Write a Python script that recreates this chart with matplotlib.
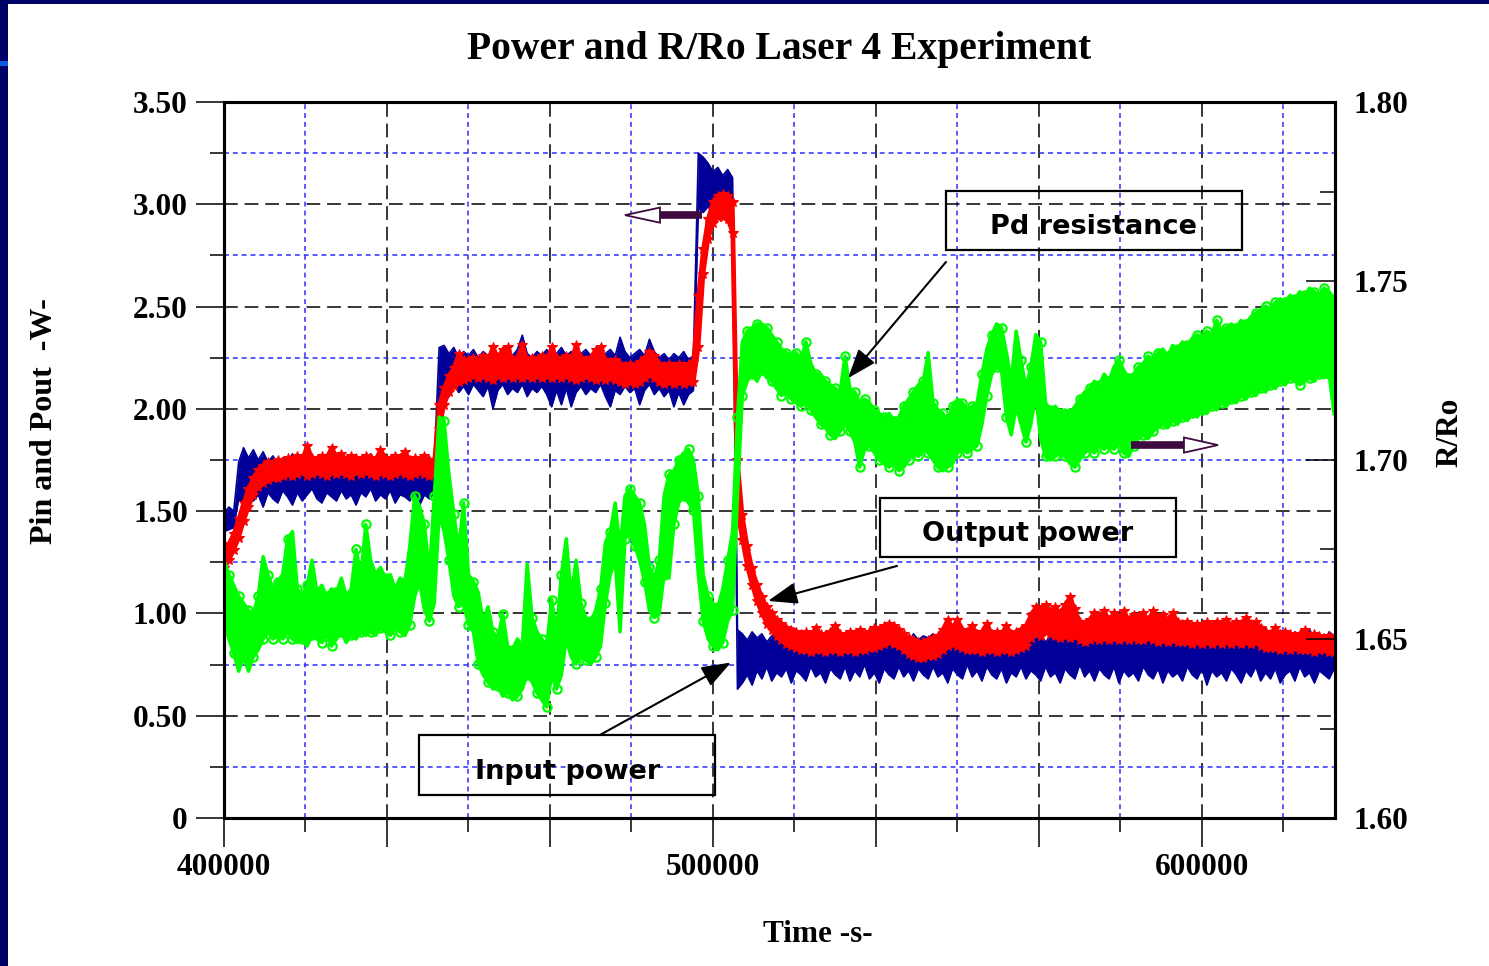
import numpy as np
import matplotlib
matplotlib.use("Agg")
import matplotlib.pyplot as plt
from matplotlib.patches import Rectangle, Polygon
from matplotlib.ticker import FixedLocator, FuncFormatter

plt.rcParams["font.family"] = ["Liberation Serif", "DejaVu Serif"]
plt.rcParams["font.weight"] = "bold"

# ---------------------------------------------------------------------------
# Data: one min/max pair per 1000 s bin, from 400000 s to 627000 s
# ---------------------------------------------------------------------------
time_s = np.arange(400000, 628000, 1000)

# Input power (W): lower / upper envelope of the noisy trace
pin_lo = [
    1.40, 1.41, 1.42,
    1.56, 1.53, 1.60, 1.55, 1.58, 1.52, 1.59, 1.56, 1.54, 1.60, 1.57, 1.53, 1.59, 1.55,
    1.58, 1.61, 1.56, 1.54, 1.59, 1.57, 1.55, 1.60, 1.56, 1.58, 1.53, 1.59, 1.57, 1.61,
    1.55, 1.58, 1.56, 1.60, 1.54, 1.58, 1.57, 1.55, 1.60, 1.53, 1.58, 1.56, 1.59,
    2.04,
    2.10, 2.06, 2.12, 2.08, 2.11, 2.07, 2.12, 2.09, 2.06, 2.11, 2.00, 2.09, 2.12, 2.07,
    2.10, 2.08, 2.12, 2.06, 2.10, 2.08, 2.11, 2.07, 2.01, 2.09, 2.02, 2.10, 2.01, 2.08,
    2.11, 2.07, 2.10, 2.08, 2.12, 2.06, 2.01, 2.09, 2.07, 2.11, 2.08, 2.10, 2.02, 2.09,
    2.12, 2.07, 2.10, 2.06, 2.09, 2.01, 2.08, 2.02, 2.07, 2.09,
    2.98, 2.96, 2.99, 2.95, 2.97, 2.94, 2.96, 2.92,
    0.63, 0.66, 0.70, 0.65, 0.72, 0.68, 0.74, 0.67, 0.71, 0.69, 0.73, 0.66, 0.72, 0.70,
    0.67, 0.74, 0.69, 0.71, 0.66, 0.73,
    0.70, 0.68, 0.74, 0.67, 0.72, 0.69, 0.75, 0.68, 0.71, 0.66, 0.73, 0.70, 0.68, 0.74,
    0.69, 0.72, 0.67, 0.73, 0.70, 0.68,
    0.74, 0.69, 0.71, 0.66, 0.73, 0.70, 0.68, 0.75, 0.69, 0.72, 0.67, 0.74, 0.70, 0.68,
    0.73, 0.66, 0.71, 0.69, 0.74, 0.68,
    0.72, 0.70, 0.67, 0.74, 0.69, 0.71, 0.66, 0.73, 0.70, 0.68, 0.75, 0.69, 0.72, 0.67,
    0.73, 0.70, 0.68, 0.74, 0.66, 0.72,
    0.69, 0.71, 0.67, 0.74, 0.70, 0.68, 0.73, 0.66, 0.72, 0.69, 0.71, 0.67, 0.74, 0.70,
    0.68, 0.73, 0.65, 0.72, 0.69, 0.71,
    0.67, 0.73, 0.70, 0.66, 0.72, 0.69, 0.74, 0.67, 0.71, 0.68, 0.73, 0.66, 0.70, 0.72,
    0.67, 0.74, 0.69, 0.71, 0.66, 0.72, 0.70, 0.68, 0.73,
]
pin_hi = [
    1.49, 1.52, 1.50,
    1.74, 1.81, 1.76, 1.80, 1.75, 1.79, 1.74, 1.77, 1.73, 1.76, 1.74, 1.78, 1.73, 1.75,
    1.77, 1.74, 1.76, 1.73, 1.75, 1.74, 1.77, 1.73, 1.75, 1.74, 1.76, 1.73, 1.75, 1.78,
    1.74, 1.76, 1.73, 1.75, 1.77, 1.74, 1.76, 1.73, 1.75, 1.74, 1.77, 1.73, 1.74,
    2.30,
    2.31, 2.27, 2.30, 2.25, 2.28, 2.26, 2.29, 2.25, 2.28, 2.26, 2.29, 2.27, 2.25, 2.28,
    2.26, 2.29, 2.36, 2.27, 2.25, 2.28, 2.26, 2.29, 2.25, 2.27, 2.30, 2.26, 2.28, 2.25,
    2.27, 2.29, 2.26, 2.28, 2.25, 2.27, 2.29, 2.26, 2.35, 2.28, 2.25, 2.27, 2.29, 2.26,
    2.34, 2.28, 2.25, 2.27, 2.24, 2.27, 2.25, 2.28, 2.24, 2.26,
    3.25, 3.23, 3.20, 3.16, 3.18, 3.14, 3.17, 3.13,
    0.92, 0.90, 0.87, 0.91, 0.88, 0.90, 0.86, 0.89, 0.91, 0.87, 0.90, 0.88, 0.86, 0.91,
    0.89, 0.87, 0.90, 0.88, 0.91, 0.86,
    0.89, 0.87, 0.90, 0.88, 0.86, 0.91, 0.87, 0.89, 0.88, 0.90, 0.86, 0.89, 0.87, 0.91,
    0.88, 0.86, 0.90, 0.87, 0.89, 0.88,
    0.90, 0.86, 0.89, 0.87, 0.91, 0.88, 0.86, 0.90, 0.87, 0.89, 0.88, 0.91, 0.86, 0.89,
    0.87, 0.90, 0.88, 0.86, 0.91, 0.87,
    0.89, 0.88, 0.90, 0.86, 0.89, 0.87, 0.91, 0.88, 0.86, 0.90, 0.87, 0.89, 0.88, 0.91,
    0.86, 0.89, 0.87, 0.90, 0.88, 0.86,
    0.91, 0.87, 0.89, 0.88, 0.90, 0.86, 0.89, 0.87, 0.91, 0.88, 0.86, 0.90, 0.87, 0.89,
    0.88, 0.91, 0.87, 0.90, 0.86, 0.89,
    0.88, 0.92, 0.87, 0.90, 0.86, 0.91, 0.88, 0.89, 0.93, 0.87, 0.90, 0.88, 0.92, 0.86,
    0.91, 0.89, 0.87, 0.92, 0.88, 0.90, 0.86, 0.91, 0.89,
]

# Output power (W): lower / upper envelope
pout_lo = [
    1.22, 1.26, 1.31, 1.37, 1.45, 1.52, 1.58, 1.62, 1.64, 1.65, 1.66, 1.66, 1.67,
    1.68, 1.67, 1.68, 1.69, 1.67, 1.68, 1.69, 1.68, 1.67, 1.69, 1.68, 1.69, 1.68, 1.67,
    1.69, 1.68, 1.69, 1.68, 1.67, 1.69, 1.68, 1.67, 1.68, 1.69, 1.68, 1.67, 1.68, 1.69,
    1.68, 1.67, 1.68,
    1.90, 2.02, 2.08, 2.11, 2.13, 2.14,
    2.15, 2.16, 2.15, 2.16, 2.15, 2.14, 2.16, 2.15, 2.16, 2.15, 2.16, 2.15, 2.16, 2.15,
    2.16, 2.15, 2.16, 2.15, 2.16, 2.15, 2.16, 2.15, 2.14, 2.15, 2.16, 2.15, 2.14, 2.15,
    2.14, 2.15, 2.14, 2.13, 2.12, 2.13, 2.12, 2.13, 2.15, 2.17, 2.15, 2.13, 2.12, 2.13,
    2.12, 2.13, 2.12, 2.13, 2.13,
    2.30, 2.66, 2.83, 2.91, 2.94, 2.94, 2.93, 2.86,
    1.50, 1.36, 1.23, 1.14, 1.06, 1.00, 0.95, 0.92, 0.89, 0.87, 0.85, 0.84, 0.83,
    0.82, 0.82, 0.81, 0.82, 0.82, 0.81, 0.82, 0.82, 0.81, 0.82, 0.82, 0.81, 0.82, 0.82,
    0.83, 0.83, 0.84, 0.85, 0.86, 0.85, 0.84, 0.82, 0.80, 0.79, 0.78, 0.78, 0.79, 0.79,
    0.80, 0.82, 0.84, 0.85, 0.84, 0.83, 0.82, 0.82, 0.82, 0.81, 0.82, 0.82, 0.81, 0.82,
    0.82, 0.81, 0.82, 0.83, 0.84, 0.88, 0.90, 0.89, 0.91, 0.90, 0.89, 0.88, 0.89, 0.88,
    0.89, 0.87, 0.86, 0.87, 0.88, 0.87, 0.88, 0.87, 0.88, 0.87, 0.88, 0.87, 0.88, 0.87,
    0.87, 0.88, 0.87, 0.86, 0.87, 0.86, 0.87, 0.86, 0.86, 0.86, 0.85, 0.86, 0.85, 0.86,
    0.85, 0.86, 0.85, 0.86, 0.85, 0.86, 0.85, 0.86, 0.85, 0.86, 0.84, 0.83, 0.83, 0.83,
    0.82, 0.83, 0.82, 0.83, 0.82, 0.82, 0.82, 0.81, 0.82, 0.82, 0.81, 0.81,
]
pout_hi = [
    1.29, 1.34, 1.39, 1.46, 1.54, 1.61, 1.66, 1.70, 1.72, 1.74, 1.73, 1.75, 1.74,
    1.76, 1.75, 1.77, 1.75, 1.82, 1.76, 1.75, 1.77, 1.76, 1.81, 1.76, 1.78, 1.75, 1.77,
    1.76, 1.75, 1.77, 1.76, 1.75, 1.80, 1.76, 1.75, 1.77, 1.76, 1.79, 1.75, 1.76, 1.75,
    1.77, 1.75, 1.74,
    2.02, 2.10, 2.16, 2.20, 2.27, 2.24,
    2.24, 2.25, 2.23, 2.26, 2.24, 2.30, 2.25, 2.29, 2.30, 2.24, 2.25, 2.31, 2.24, 2.25,
    2.24, 2.26, 2.24, 2.30, 2.25, 2.24, 2.26, 2.24, 2.31, 2.25, 2.24, 2.25, 2.29, 2.30,
    2.24, 2.23, 2.24, 2.22, 2.21, 2.22, 2.21, 2.23, 2.25, 2.28, 2.26, 2.22, 2.21, 2.22,
    2.21, 2.22, 2.21, 2.22, 2.23,
    2.55, 2.78, 2.93, 3.01, 3.04, 3.05, 3.04, 3.01,
    1.75, 1.48, 1.33, 1.22, 1.14, 1.08, 1.03, 1.00, 0.97, 0.95, 0.93, 0.92, 0.91,
    0.90, 0.91, 0.89, 0.93, 0.90, 0.89, 0.91, 0.94, 0.90, 0.89, 0.91, 0.90, 0.92, 0.90,
    0.91, 0.93, 0.92, 0.94, 0.95, 0.94, 0.92, 0.90, 0.88, 0.87, 0.86, 0.86, 0.87, 0.88,
    0.89, 0.92, 0.97, 0.93, 0.97, 0.92, 0.91, 0.94, 0.90, 0.91, 0.95, 0.90, 0.91, 0.90,
    0.94, 0.90, 0.91, 0.92, 0.94, 0.99, 1.03, 1.02, 1.04, 1.01, 1.03, 1.00, 1.04, 1.08,
    1.02, 0.96, 0.95, 0.97, 1.00, 0.98, 1.01, 0.97, 1.00, 0.98, 1.01, 0.97, 0.99, 0.98,
    1.00, 0.97, 1.01, 0.98, 0.99, 0.97, 1.00, 0.96, 0.95, 0.96, 0.94, 0.95, 0.94, 0.96,
    0.94, 0.96, 0.95, 0.97, 0.94, 0.96, 0.95, 0.98, 0.95, 0.96, 0.93, 0.91, 0.90, 0.93,
    0.90, 0.91, 0.90, 0.89, 0.90, 0.92, 0.89, 0.90, 0.89, 0.88, 0.89, 0.88,
]

# Pd resistance ratio R/Ro: lower / upper envelope
rr_lo = [
    1.655, 1.650, 1.646, 1.641, 1.645, 1.641, 1.645, 1.647, 1.650, 1.652,
    1.650, 1.651, 1.650, 1.652, 1.650, 1.649, 1.650, 1.648, 1.651, 1.650,
    1.649, 1.651, 1.648, 1.650, 1.652, 1.649, 1.651, 1.650, 1.652, 1.651,
    1.652, 1.651, 1.653, 1.652, 1.651, 1.653, 1.652, 1.651, 1.654, 1.662,
    1.666, 1.658, 1.655, 1.660, 1.685, 1.680, 1.672, 1.662, 1.659, 1.660,
    1.654, 1.652, 1.643, 1.640, 1.638, 1.636, 1.637, 1.634, 1.635, 1.633,
    1.634, 1.636, 1.640, 1.638, 1.635, 1.633, 1.631, 1.640, 1.636, 1.640,
    1.650, 1.645, 1.643, 1.645, 1.644, 1.643, 1.645, 1.648, 1.660, 1.668,
    1.672, 1.652, 1.678, 1.680, 1.676, 1.672, 1.666, 1.658, 1.656, 1.657,
    1.668, 1.667, 1.682, 1.688, 1.690, 1.688, 1.686, 1.668, 1.655, 1.650,
    1.648, 1.647, 1.649, 1.655, 1.658, 1.690, 1.718, 1.722, 1.724, 1.722,
    1.725, 1.723, 1.722, 1.720, 1.718, 1.719, 1.717, 1.716, 1.715, 1.716,
    1.714, 1.712, 1.710, 1.709, 1.707, 1.706, 1.708, 1.710, 1.708, 1.705,
    1.698, 1.703, 1.704, 1.702, 1.700, 1.699, 1.698, 1.699, 1.697, 1.698,
    1.700, 1.702, 1.701, 1.703, 1.702, 1.700, 1.698, 1.697, 1.698, 1.699,
    1.702, 1.703, 1.702, 1.703, 1.704, 1.710, 1.718, 1.724, 1.726, 1.725,
    1.712, 1.707, 1.715, 1.710, 1.705, 1.710, 1.718, 1.706, 1.701, 1.700,
    1.701, 1.702, 1.701, 1.699, 1.698, 1.700, 1.702, 1.703, 1.702, 1.704,
    1.703, 1.704, 1.703, 1.705, 1.702, 1.701, 1.704, 1.706, 1.707, 1.706,
    1.708, 1.709, 1.710, 1.709, 1.711, 1.710, 1.712, 1.711, 1.713, 1.712,
    1.714, 1.713, 1.715, 1.714, 1.716, 1.715, 1.717, 1.716, 1.718, 1.717,
    1.719, 1.718, 1.720, 1.719, 1.721, 1.720, 1.722, 1.721, 1.723, 1.722,
    1.721, 1.722, 1.723, 1.722, 1.724, 1.723, 1.724, 1.713,
]
rr_hi = [
    1.672, 1.668, 1.665, 1.662, 1.660, 1.658, 1.657, 1.662, 1.673, 1.668,
    1.664, 1.666, 1.668, 1.678, 1.680, 1.664, 1.662, 1.665, 1.672, 1.663,
    1.665, 1.662, 1.664, 1.663, 1.667, 1.662, 1.664, 1.675, 1.668, 1.682,
    1.672, 1.668, 1.670, 1.667, 1.668, 1.664, 1.667, 1.666, 1.676, 1.690,
    1.687, 1.682, 1.668, 1.690, 1.712, 1.711, 1.696, 1.685, 1.675, 1.688,
    1.668, 1.666, 1.663, 1.655, 1.659, 1.652, 1.650, 1.657, 1.648, 1.647,
    1.650, 1.648, 1.671, 1.656, 1.652, 1.650, 1.648, 1.661, 1.652, 1.668,
    1.678, 1.662, 1.672, 1.660, 1.656, 1.655, 1.658, 1.664, 1.677, 1.680,
    1.688, 1.675, 1.690, 1.692, 1.690, 1.688, 1.682, 1.670, 1.667, 1.672,
    1.690, 1.696, 1.697, 1.700, 1.702, 1.703, 1.700, 1.690, 1.668, 1.662,
    1.660, 1.659, 1.664, 1.672, 1.680, 1.712, 1.733, 1.736, 1.737, 1.738,
    1.738, 1.737, 1.735, 1.733, 1.731, 1.730, 1.729, 1.730, 1.728, 1.733,
    1.727, 1.724, 1.724, 1.722, 1.721, 1.720, 1.719, 1.729, 1.720, 1.719,
    1.716, 1.717, 1.716, 1.714, 1.713, 1.712, 1.713, 1.711, 1.712, 1.715,
    1.717, 1.719, 1.721, 1.722, 1.730, 1.716, 1.714, 1.713, 1.711, 1.715,
    1.717, 1.716, 1.714, 1.715, 1.716, 1.724, 1.731, 1.735, 1.738, 1.737,
    1.730, 1.722, 1.736, 1.728, 1.720, 1.726, 1.735, 1.733, 1.716, 1.714,
    1.715, 1.713, 1.714, 1.713, 1.715, 1.717, 1.719, 1.720, 1.722, 1.721,
    1.724, 1.722, 1.726, 1.728, 1.725, 1.723, 1.724, 1.726, 1.727, 1.729,
    1.728, 1.730, 1.731, 1.729, 1.732, 1.731, 1.733, 1.732, 1.734, 1.735,
    1.734, 1.736, 1.735, 1.739, 1.736, 1.737, 1.738, 1.737, 1.739, 1.738,
    1.740, 1.741, 1.742, 1.743, 1.742, 1.744, 1.745, 1.744, 1.746, 1.745,
    1.747, 1.746, 1.748, 1.747, 1.746, 1.748, 1.747, 1.745,
]

# Axis ranges and tick values
t_min, t_max = 400000, 627200
p_ticks = [0.0, 0.5, 1.0, 1.5, 2.0, 2.5, 3.0, 3.5]
p_minor = [0.25, 0.75, 1.25, 1.75, 2.25, 2.75, 3.25]
r_ticks = [1.60, 1.65, 1.70, 1.75, 1.80]
r_minor = [1.625, 1.675, 1.725, 1.775]
t_labelled = [400000, 500000, 600000]

NAVY = "#000099"
RED = "#ff0000"
LIME = "#00ff00"
PURPLE = "#3f0a40"
FRAME = "#000066"

W, H = 1489, 966
fig = plt.figure(figsize=(W / 100, H / 100), dpi=100)
fig.patch.set_facecolor("white")

# slide frame
fig.add_artist(Rectangle((0, 0), 8 / W, 1, transform=fig.transFigure,
                         color=FRAME, lw=0, zorder=0))
fig.add_artist(Rectangle((0, 1 - 4 / H), 1, 4 / H, transform=fig.transFigure,
                         color=FRAME, lw=0, zorder=0))
fig.add_artist(Rectangle((0, 1 - 66 / H), 8 / W, 5 / H, transform=fig.transFigure,
                         color="#0a5adc", lw=0, zorder=1))

ax1 = fig.add_axes([224 / W, 1 - 818 / H, (1335 - 224) / W, (818 - 102) / H])
ax2 = ax1.twinx()

# --- input power (navy band) -------------------------------------------------
ax1.fill_between(time_s, pin_lo, pin_hi, color=NAVY, lw=0, zorder=2)
ax1.plot(time_s, pin_lo, color=NAVY, lw=1.2, zorder=2)
ax1.plot(time_s, pin_hi, color=NAVY, lw=1.2, zorder=2)

# --- output power (red band with star markers) ------------------------------
ax1.fill_between(time_s, pout_lo, pout_hi, color=RED, lw=0, zorder=3)
for edge in (pout_lo, pout_hi):
    ax1.plot(time_s, edge, color=RED, lw=3.0, marker="*", ms=7.5, mew=0.8,
             zorder=3)

# --- R/Ro (green band with open circles) on the right axis ------------------
ax2.fill_between(time_s, rr_lo, rr_hi, color=LIME, lw=0, zorder=2)
ax2.plot(time_s, rr_lo, color=LIME, lw=2.5, marker="o", ms=6, mfc="none",
         mew=1.6, markevery=(0, 2), zorder=2)
ax2.plot(time_s, rr_hi, color=LIME, lw=2.5, marker="o", ms=6, mfc="none",
         mew=1.6, markevery=(1, 2), zorder=2)

# --- axes, ticks and grid ----------------------------------------------------
ax1.set_xlim(t_min, t_max)
ax1.set_ylim(0, 3.5)
ax2.set_ylim(1.60, 1.80)

x_major = t_min + np.arange(7) * (100000 / 3)
x_minor = x_major + 100000 / 6
ax1.xaxis.set_major_locator(FixedLocator(x_major))
ax1.xaxis.set_minor_locator(FixedLocator(x_minor))


def t_label(v, pos):
    for lab in t_labelled:
        if abs(v - lab) < 1:
            return f"{lab}"
    return ""


ax1.xaxis.set_major_formatter(FuncFormatter(t_label))
ax1.yaxis.set_major_locator(FixedLocator(p_ticks))
ax1.yaxis.set_minor_locator(FixedLocator(p_minor))
ax1.yaxis.set_major_formatter(
    FuncFormatter(lambda v, p: "0" if abs(v) < 1e-9 else f"{v:.2f}"))

ax2.yaxis.set_major_locator(FixedLocator(r_ticks))
ax2.yaxis.set_minor_locator(FixedLocator(r_minor))
ax2.yaxis.set_major_formatter(FuncFormatter(lambda v, p: f"{v:.2f}"))

ax1.tick_params(axis="y", which="major", direction="out", length=20, width=1.1,
                pad=6, labelsize=22.5, left=True, right=False)
ax1.tick_params(axis="y", which="minor", direction="out", length=10, width=1.1,
                left=True, right=False)
ax1.tick_params(axis="x", which="major", direction="out", length=21, width=1.1,
                pad=4, labelsize=22.5, top=False)
ax1.tick_params(axis="x", which="minor", direction="out", length=10, width=1.1,
                top=False)
ax2.tick_params(axis="y", which="major", direction="in", length=21, width=1.1,
                pad=13, labelsize=22.5, right=True, left=False)
ax2.tick_params(axis="y", which="minor", direction="in", length=11, width=1.1,
                right=True, left=False)

ax1.set_axisbelow(True)
ax1.grid(True, which="major", color="black", linestyle=(0, (9, 4.5)), lw=1.1)
ax1.grid(True, which="minor", color="#2d2dff", linestyle=(0, (3.2, 2.6)), lw=1.1)

for ax in (ax1, ax2):
    for sp in ax.spines.values():
        sp.set_linewidth(2.2)
        sp.set_color("black")

# --- titles and axis labels --------------------------------------------------
fig.text(779.5 / W, 1 - 50 / H, "Power and R/Ro Laser 4 Experiment",
         ha="center", va="center", fontsize=28.5, fontweight="bold")
fig.text(45 / W, 1 - 421 / H, "Pin and Pout  -W-", rotation=90,
         ha="center", va="center", fontsize=23, fontweight="bold")
fig.text(1450 / W, 1 - 432 / H, "R/Ro", rotation=90,
         ha="center", va="center", fontsize=22.5, fontweight="bold")
fig.text(818 / W, 1 - 935 / H, "Time -s-",
         ha="center", va="center", fontsize=22.5, fontweight="bold")

# --- callout boxes (positions in power / time units) ------------------------
T1 = ax1.transData
sans = dict(family=["DejaVu Sans"], fontweight="bold", fontsize=19.5)
callouts = [
    ("Pd resistance", (547650, 2.776), 60530, 0.289, (577915, 2.854)),
    ("Output power", (534150, 1.276), 60530, 0.288, (564420, 1.354)),
    ("Input power", (439880, 0.112), 60530, 0.294, (470350, 0.191)),
]
for label, corner, w, h, txt_xy in callouts:
    ax2.add_patch(Rectangle(corner, w, h, transform=T1, fill=False,
                            ec="black", lw=1.6, zorder=6, clip_on=False))
    ax2.text(txt_xy[0], txt_xy[1], label, transform=T1, ha="center",
             va="baseline", zorder=7, **sans)

pointer = dict(arrowstyle="-|>,head_length=0.6,head_width=0.22",
               mutation_scale=30, lw=1.5, color="black", shrinkA=0, shrinkB=0)
for start, tip in [((547650, 2.718), (527610, 2.150)),
                   ((537630, 1.232), (511250, 1.061)),
                   ((476890, 0.406), (503680, 0.760))]:
    ax2.annotate("", xy=tip, xytext=start, xycoords=T1, textcoords=T1,
                 arrowprops=pointer, zorder=7)

# --- axis-direction arrows (thick body, hollow head) ------------------------
for body, head in [
    ((488550, 497750, 2.947), [(482000, 2.947), (489160, 2.984), (489160, 2.910)]),
    ((585480, 596520, 1.823), [(603270, 1.823), (596310, 1.860), (596310, 1.786)]),
]:
    ax2.plot([body[0], body[1]], [body[2], body[2]], transform=T1,
             color=PURPLE, lw=5.5, solid_capstyle="butt", zorder=8)
    ax2.add_patch(Polygon(head, closed=True, transform=T1, fc="white",
                          ec=PURPLE, lw=1.3, zorder=9))

ax1.set_xlim(t_min, t_max)
ax1.set_ylim(0, 3.5)
ax2.set_ylim(1.60, 1.80)

fig.savefig("out.png", dpi=100, facecolor="white")
